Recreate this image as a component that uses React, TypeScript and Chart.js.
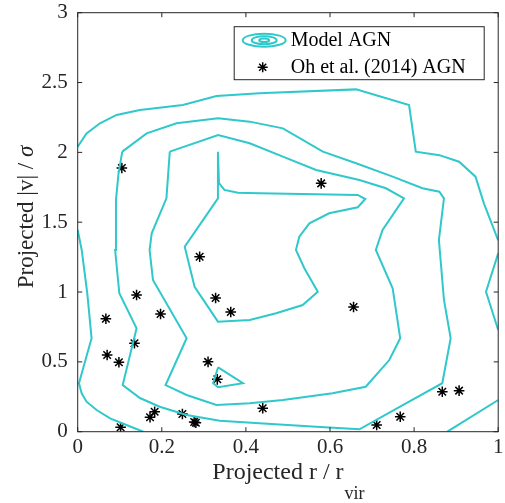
import React, { useEffect, useRef } from 'react';
import { Chart, registerables } from 'chart.js';

Chart.register(...registerables);

// ---- axis ticks ----
const xTicks = [0, 0.2, 0.4, 0.6, 0.8, 1];
const yTicks = [0, 0.5, 1, 1.5, 2, 2.5, 3];

// ---- observed AGN (Oh et al. 2014) ----
const obsX = [0.105, 0.579, 0.29, 0.14, 0.328, 0.364, 0.656, 0.067, 0.197, 0.135, 0.07, 0.098, 0.31, 0.332, 0.102, 0.172, 0.183, 0.249, 0.277, 0.281, 0.44, 0.711, 0.767, 0.867, 0.907];
const obsY = [1.888, 1.778, 1.253, 0.979, 0.957, 0.857, 0.893, 0.809, 0.843, 0.633, 0.549, 0.497, 0.5, 0.375, 0.032, 0.103, 0.143, 0.127, 0.07, 0.064, 0.168, 0.048, 0.107, 0.286, 0.294];

// ---- model AGN contours (x, y) ----
const contourOuterTop: number[][] = [
  [0, 2.041], [0.021, 2.136], [0.053, 2.208], [0.0925, 2.268], [0.148, 2.303], [0.25, 2.339],
  [0.33, 2.404], [0.432, 2.423], [0.662, 2.451], [0.788, 2.339], [0.804, 2.005], [0.86, 1.98],
  [0.907, 1.933], [0.946, 1.826], [0.966, 1.635], [1, 1.37],
];
const contourOuterRight: number[][] = [[1, 1.277], [0.971, 1.002], [1, 0.728]];
const contourOuterCorner: number[][] = [[1, 0.227], [0.879, 0]];
const contourOuterLeft: number[][] = [
  [0, 1.444], [0.0095, 1.301], [0.0228, 0.991], [0.033, 0.669], [0.003, 0.347], [0.0095, 0.275],
  [0.021, 0.215], [0.045, 0.155], [0.077, 0.095], [0.116, 0.048], [0.156, 0],
];
const contourLevel2: number[][] = [
  [0.106, 2.005], [0.164, 2.136], [0.235, 2.208], [0.334, 2.244], [0.409, 2.22], [0.488, 2.172],
  [0.583, 2.005], [0.662, 1.922], [0.749, 1.826], [0.82, 1.743], [0.86, 1.718], [0.871, 1.671],
  [0.859, 1.373], [0.871, 0.943], [0.887, 0.669], [0.867, 0.347], [0.788, 0.215], [0.67, 0.017],
  [0.567, 0.036], [0.432, 0.06], [0.338, 0.079], [0.259, 0.12], [0.195, 0.179], [0.148, 0.241],
  [0.107, 0.334], [0.14, 0.74], [0.099, 0.991], [0.089, 1.301], [0.091, 1.659], [0.097, 1.847],
  [0.106, 2.005],
];
const contourLevel3: number[][] = [
  [0.219, 2.005], [0.334, 2.124], [0.409, 2.065], [0.488, 1.969], [0.567, 1.874], [0.67, 1.802],
  [0.733, 1.743], [0.776, 1.671], [0.725, 1.444], [0.709, 1.301], [0.749, 1.027], [0.767, 0.669],
  [0.741, 0.513], [0.685, 0.322], [0.606, 0.275], [0.488, 0.227], [0.409, 0.203], [0.33, 0.191],
  [0.259, 0.263], [0.209, 0.334], [0.259, 0.669], [0.179, 1.086], [0.171, 1.301], [0.176, 1.42],
  [0.211, 1.671], [0.219, 2.005],
];
const contourLevel4: number[][] = [
  [0.3335, 2.005], [0.336, 1.779], [0.349, 1.731], [0.381, 1.711], [0.432, 1.707], [0.666, 1.695],
  [0.684, 1.666], [0.666, 1.607], [0.598, 1.564], [0.551, 1.492], [0.527, 1.396], [0.519, 1.301],
  [0.539, 1.17], [0.571, 1.002], [0.535, 0.907], [0.472, 0.848], [0.409, 0.8], [0.3335, 0.788],
  [0.278, 1.038], [0.2545, 1.325], [0.3335, 1.671], [0.3335, 2.005],
];
const contourLevel5: number[][] = [
  [0.334, 0.461], [0.393, 0.347], [0.334, 0.318], [0.322, 0.347], [0.334, 0.461],
];

const contours = [
  contourOuterTop, contourOuterRight, contourOuterCorner, contourOuterLeft,
  contourLevel2, contourLevel3, contourLevel4, contourLevel5,
];

const FG = '#262626';
const CYAN = 'rgb(48,200,202)';
const SERIF = '"Liberation Serif", "Times New Roman", Times, serif';
const TICK_LEN = 4.5;

function drawStar(ctx: CanvasRenderingContext2D, x: number, y: number, r: number) {
  ctx.beginPath();
  for (let i = 0; i < 4; i++) {
    const ang = (i * Math.PI) / 4;
    ctx.moveTo(x - r * Math.cos(ang), y - r * Math.sin(ang));
    ctx.lineTo(x + r * Math.cos(ang), y + r * Math.sin(ang));
  }
  ctx.stroke();
}

const decorPlugin = {
  id: 'decor',
  afterDraw(chart: any) {
    const { ctx, chartArea: a, scales } = chart;
    const xs = scales.x;
    const ys = scales.y;
    ctx.save();
    // box
    ctx.strokeStyle = FG;
    ctx.lineWidth = 1;
    ctx.strokeRect(a.left, a.top, a.right - a.left, a.bottom - a.top);
    // inward ticks on all sides
    ctx.beginPath();
    for (const v of xTicks) {
      const px = xs.getPixelForValue(v);
      ctx.moveTo(px, a.bottom);
      ctx.lineTo(px, a.bottom - TICK_LEN);
      ctx.moveTo(px, a.top);
      ctx.lineTo(px, a.top + TICK_LEN);
    }
    for (const v of yTicks) {
      const py = ys.getPixelForValue(v);
      ctx.moveTo(a.left, py);
      ctx.lineTo(a.left + TICK_LEN, py);
      ctx.moveTo(a.right, py);
      ctx.lineTo(a.right - TICK_LEN, py);
    }
    ctx.stroke();

    ctx.fillStyle = FG;
    // x title with subscript
    const cx = (a.left + a.right) / 2;
    const mainFont = `24px ${SERIF}`;
    const subFont = `18px ${SERIF}`;
    const xMain = 'Projected r / r';
    const xSub = 'vir';
    ctx.font = mainFont;
    const wMain = ctx.measureText(xMain).width;
    ctx.font = subFont;
    const wSub = ctx.measureText(xSub).width;
    const x0 = cx - (wMain + wSub) / 2;
    ctx.textAlign = 'left';
    ctx.textBaseline = 'alphabetic';
    ctx.font = mainFont;
    ctx.fillText(xMain, x0, a.bottom + 47);
    ctx.font = subFont;
    ctx.fillText(xSub, x0 + wMain + 1, a.bottom + 67);

    // y title rotated, sigma italic
    const yFont = `23px ${SERIF}`;
    const yMain = 'Projected |v| / ';
    const ySig = 'σ';
    ctx.font = yFont;
    const wy = ctx.measureText(yMain).width;
    const italFont = `italic 23px ${SERIF}`;
    ctx.font = italFont;
    const ws = ctx.measureText(ySig).width;
    ctx.save();
    ctx.translate(33.3, 217);
    ctx.rotate(-Math.PI / 2);
    const y0 = -(wy + ws) / 2;
    ctx.font = yFont;
    ctx.fillText(yMain, y0, 0);
    ctx.font = italFont;
    ctx.fillText(ySig, y0 + wy, 0);
    ctx.restore();

    // legend
    const lx = a.right - 264;
    const ly = a.top + 14;
    const lw = 250;
    const lh = 53;
    ctx.fillStyle = '#ffffff';
    ctx.fillRect(lx, ly, lw, lh);
    ctx.strokeStyle = FG;
    ctx.lineWidth = 1;
    ctx.strokeRect(lx, ly, lw, lh);
    // contour icon
    const ex = lx + 30;
    const ey = ly + 13.5;
    ctx.strokeStyle = CYAN;
    ctx.lineWidth = 2;
    for (const [rx, ry] of [[21.5, 6.5], [12.5, 4], [5, 1.8]]) {
      ctx.beginPath();
      ctx.ellipse(ex, ey, rx, ry, 0, 0, Math.PI * 2);
      ctx.stroke();
    }
    // star icon
    ctx.strokeStyle = '#000000';
    ctx.lineWidth = 1.5;
    drawStar(ctx, lx + 28.5, ly + 40.5, 5);
    ctx.fillStyle = '#000000';
    ctx.font = `20px ${SERIF}`;
    ctx.textBaseline = 'middle';
    ctx.fillText('Model AGN', lx + 56.5, ey + 1);
    ctx.fillText('Oh et al. (2014) AGN', lx + 56.5, ly + 41);
    ctx.restore();
  },
};

function zeroPadding(s: any) {
  s.paddingTop = 0;
  s.paddingBottom = 0;
  s.paddingLeft = 0;
  s.paddingRight = 0;
}

export default function App() {
  const canvasRef = useRef<HTMLCanvasElement | null>(null);

  useEffect(() => {
    const canvas = canvasRef.current;
    if (!canvas) return;
    const datasets: any[] = contours.map((c, i) => ({
      label: `contour${i}`,
      data: c.map(([x, y]) => ({ x, y })),
      showLine: true,
      borderColor: CYAN,
      backgroundColor: CYAN,
      borderWidth: 2,
      pointRadius: 0,
      tension: 0,
      fill: false,
    }));
    datasets.push({
      label: 'Oh et al. (2014) AGN',
      data: obsX.map((x, i) => ({ x, y: obsY[i] })),
      showLine: false,
      pointStyle: 'star',
      pointRadius: 5.3,
      borderColor: '#000000',
      backgroundColor: '#000000',
      borderWidth: 1.5,
    });

    const tickFont = { family: SERIF, size: 21, lineHeight: 1 };

    const chart = new Chart(canvas, {
      type: 'scatter',
      data: { datasets },
      plugins: [decorPlugin],
      options: {
        responsive: false,
        animation: false,
        devicePixelRatio: 1,
        layout: { padding: { left: 0, top: 12.7, right: 5.7, bottom: 0 } },
        plugins: {
          legend: { display: false },
          tooltip: { enabled: false },
          title: { display: false },
        },
        scales: {
          x: {
            type: 'linear',
            min: 0,
            max: 1,
            afterBuildTicks: (s: any) => { s.ticks = xTicks.map((v) => ({ value: v })); },
            afterFit: (s: any) => { s.height = 503 - 431.7; zeroPadding(s); },
            grid: { display: false, drawTicks: false },
            border: { display: false },
            ticks: {
              color: FG,
              font: tickFont,
              padding: 5,
              maxRotation: 0,
              autoSkip: false,
              callback: (v: any) => String(v),
            },
          },
          y: {
            type: 'linear',
            min: 0,
            max: 3,
            afterBuildTicks: (s: any) => { s.ticks = yTicks.map((v) => ({ value: v })); },
            afterFit: (s: any) => { s.width = 77.7; zeroPadding(s); },
            grid: { display: false, drawTicks: false },
            border: { display: false },
            ticks: {
              color: FG,
              font: tickFont,
              padding: 10,
              autoSkip: false,
              callback: (v: any) => String(v),
            },
          },
        },
      },
    } as any);
    return () => chart.destroy();
  }, []);

  return (
    <div style={{ position: 'absolute', left: 0, top: 0, width: 505, height: 503, background: '#fff' }}>
      <canvas ref={canvasRef} width={505} height={503} style={{ display: 'block', width: 505, height: 503 }} />
    </div>
  );
}
